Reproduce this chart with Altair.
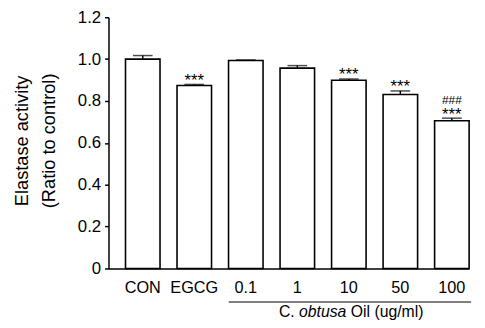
import altair as alt
import pandas as pd

categories = ["CON", "EGCG", "0.1", "1", "10", "50", "100"]
means = [1.0, 0.874, 0.993, 0.957, 0.899, 0.831, 0.706]
errors = [0.017, 0.005, 0.003, 0.012, 0.006, 0.017, 0.012]
stars = ["", "***", "", "", "***", "***", "***"]
hashes = ["", "", "", "", "", "", "###"]
y_ticks = [0, 0.2, 0.4, 0.6, 0.8, 1.0, 1.2]

df = pd.DataFrame({
    "cat": categories,
    "mean": means,
    "upper": [m + e for m, e in zip(means, errors)],
    "stars": stars,
    "hashes": hashes,
})

FONT = "Liberation Sans"
W, H = 366, 255

xenc = alt.X(
    "cat:N", sort=categories, title=None,
    scale=alt.Scale(paddingInner=0.33, paddingOuter=0.165, align=1),
    axis=alt.Axis(labelAngle=0, ticks=False, labelPadding=11, labelFontSize=16.5,
                  labelFont=FONT, labelColor="black", domainColor="black",
                  domainWidth=1.5),
)
yscale = alt.Scale(domain=[0, 1.2])
yenc = alt.Y(
    "mean:Q", scale=yscale,
    axis=alt.Axis(
        values=y_ticks, grid=False, tickSize=4, tickColor="black", tickWidth=1.5,
        domainColor="black", domainWidth=1.5, labelFontSize=17, labelFont=FONT,
        labelColor="black", labelPadding=4,
        labelExpr="datum.value == 0 ? '0' : format(datum.value, '.1f')",
        title=["Elastase activity", "(Ratio to control)"],
        titleFont=FONT, titleFontSize=18.5, titleFontWeight="normal", titleColor="black",
        titleLineHeight=27, titleAngle=270, titleAlign="center",
        titleBaseline="alphabetic", titleX=-82, titleY=125,
    ),
)

base = alt.Chart(df)

bars = base.mark_bar(fill="white", stroke="black", strokeWidth=1.6).encode(x=xenc, y=yenc)

whisk = base.mark_rule(color="black", strokeWidth=1.5).encode(
    x=alt.X("cat:N", sort=categories),
    y=alt.Y("mean:Q", scale=yscale),
    y2="upper:Q",
)
caps = base.mark_tick(color="black", thickness=1.5, size=20, orient="horizontal").encode(
    x=alt.X("cat:N", sort=categories),
    y=alt.Y("upper:Q", scale=yscale),
)
star_txt = base.mark_text(font=FONT, fontSize=17, baseline="alphabetic", dy=1.5, color="black").encode(
    x=alt.X("cat:N", sort=categories),
    y=alt.Y("upper:Q", scale=yscale),
    text="stars:N",
)
hash_txt = base.mark_text(font=FONT, fontSize=12, baseline="alphabetic", dy=-14, color="black").encode(
    x=alt.X("cat:N", sort=categories),
    y=alt.Y("upper:Q", scale=yscale),
    text="hashes:N",
)

group_line = alt.Chart(pd.DataFrame({"a": [0]})).mark_rule(color="#555", strokeWidth=1.5).encode(
    x=alt.value(122), x2=alt.value(368), y=alt.value(289)
)
t1 = alt.Chart(pd.DataFrame({"t": ["C."]})).mark_text(
    font=FONT, fontSize=16, align="left", baseline="alphabetic", color="black"
).encode(x=alt.value(173), y=alt.value(304.5), text="t:N")
t2 = alt.Chart(pd.DataFrame({"t": ["obtusa"]})).mark_text(
    font=FONT, fontSize=16, fontStyle="italic", align="left", baseline="alphabetic", color="black"
).encode(x=alt.value(193.4), y=alt.value(304.5), text="t:N")
t3 = alt.Chart(pd.DataFrame({"t": ["Oil (ug/ml)"]})).mark_text(
    font=FONT, fontSize=16, align="left", baseline="alphabetic", color="black"
).encode(x=alt.value(245.9), y=alt.value(304.5), text="t:N")

chart = alt.layer(bars, whisk, caps, star_txt, hash_txt, group_line, t1, t2, t3).properties(
    width=W, height=H,
    autosize=alt.AutoSizeParams(type="none"),
    padding={"left": 102, "top": 7, "right": 8, "bottom": 56},
).configure_view(stroke=None).configure_axis(grid=False)

chart.save("out.html", embed_options={"renderer": "svg", "actions": False})
